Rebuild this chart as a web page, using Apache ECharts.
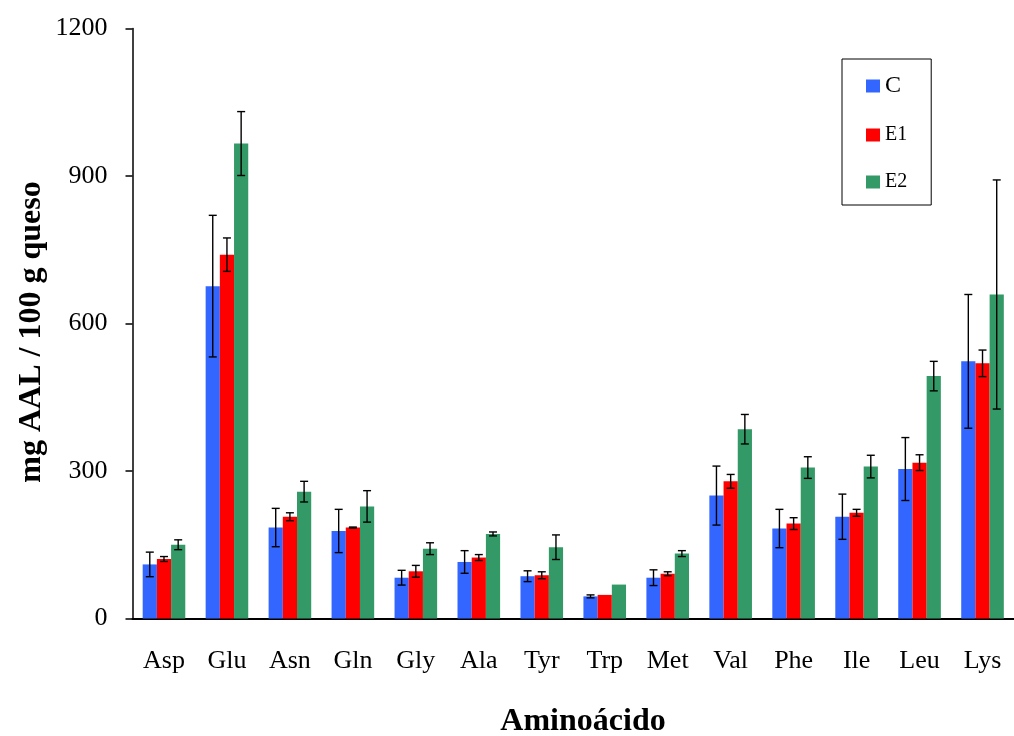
<!DOCTYPE html>
<html>
<head>
<meta charset="utf-8">
<title>Aminoácidos libres</title>
<script src="https://cdn.jsdelivr.net/npm/echarts@6/dist/echarts.min.js"></script>
<style>
  html, body { margin: 0; padding: 0; background: #fff; }
  #chart { width: 1014px; height: 736px; }
</style>
</head>
<body>
<div id="chart"></div>
<script>
// Free amino acids (mg AAL / 100 g queso), mean and standard deviation per treatment
const categories = ['Asp', 'Glu', 'Asn', 'Gln', 'Gly', 'Ala', 'Tyr', 'Trp', 'Met', 'Val', 'Phe', 'Ile', 'Leu', 'Lys'];

const valuesC   = [110, 676, 185, 178, 83, 115, 86, 45, 83, 250, 183, 207, 304, 523];
const errorsC   = [25, 144, 39, 44, 15, 23, 11, 3, 16, 60, 39, 46, 64, 136];

const valuesE1  = [121, 740, 207, 185, 96, 124, 88, 48, 91, 279, 193, 215, 317, 519];
const errorsE1  = [5, 34, 8, 1, 12, 6, 7, 0, 4, 14, 12, 7, 16, 27];

const valuesE2  = [150, 966, 258, 228, 142, 172, 145, 69, 132, 385, 307, 309, 493, 659];
const errorsE2  = [10, 65, 21, 32, 12, 4, 25, 0, 6, 30, 22, 23, 30, 233];

const yTicks = [0, 300, 600, 900, 1200];

const seriesNames  = ['C', 'E1', 'E2'];
const seriesColors = ['#3366FF', '#FF0000', '#339966'];

const SERIF = '"Liberation Serif", "Times New Roman", serif';
const BAR_W = 14.2;

const chart = echarts.init(document.getElementById('chart'), null, { renderer: 'canvas' });

function barSeries(name, values, color) {
  return {
    name: name,
    type: 'bar',
    data: values,
    barWidth: BAR_W,
    barGap: '0%',
    itemStyle: { color: color },
    z: 2
  };
}

// Error bars drawn with a custom series, shifted to sit over the matching bar
function errorSeries(name, values, errors, slot) {
  const data = values.map((v, i) => [i, v, errors[i]]);
  return {
    name: name + ' (DE)',
    type: 'custom',
    data: data,
    encode: { x: 0, y: 1 },
    z: 5,
    silent: true,
    renderItem: function (params, api) {
      const idx = api.value(0);
      const v = api.value(1);
      const e = api.value(2);
      if (!e) return null;
      const base = api.coord([idx, v]);
      const top = api.coord([idx, v + e]);
      const bot = api.coord([idx, v - e]);
      const x = base[0] + slot * BAR_W;
      const cap = 4;
      const style = { stroke: '#000', lineWidth: 1.4 };
      return {
        type: 'group',
        children: [
          { type: 'line', shape: { x1: x, y1: top[1], x2: x, y2: bot[1] }, style: style },
          { type: 'line', shape: { x1: x - cap, y1: top[1], x2: x + cap, y2: top[1] }, style: style },
          { type: 'line', shape: { x1: x - cap, y1: bot[1], x2: x + cap, y2: bot[1] }, style: style }
        ]
      };
    }
  };
}

const option = {
  backgroundColor: '#ffffff',
  animation: false,
  grid: { left: 132.5, top: 28.5, width: 890.5, bottom: 117.5, containLabel: false },
  legend: {
    data: [
      { name: 'C',  textStyle: { fontSize: 24 } },
      { name: 'E1', textStyle: { fontSize: 20 } },
      { name: 'E2', textStyle: { fontSize: 20 } }
    ],
    orient: 'vertical',
    left: 842,
    top: 59,
    padding: [15, 24, 13, 24],
    itemWidth: 14,
    itemHeight: 13,
    itemGap: 27,
    borderColor: '#000',
    borderWidth: 1,
    icon: 'rect',
    textStyle: { fontFamily: SERIF, color: '#000', fontSize: 20, lineHeight: 20 }
  },
  xAxis: {
    type: 'category',
    data: categories,
    boundaryGap: true,
    axisLine: { show: true, lineStyle: { color: '#000', width: 2 } },
    axisTick: { show: false },
    axisLabel: { color: '#000', fontFamily: SERIF, fontSize: 26, margin: 30, interval: 0 },
    splitLine: { show: false }
  },
  yAxis: {
    type: 'value',
    min: yTicks[0],
    max: yTicks[yTicks.length - 1],
    interval: yTicks[1] - yTicks[0],
    axisLine: { show: true, lineStyle: { color: '#000', width: 1.5 } },
    axisTick: { show: true, inside: false, length: 7, lineStyle: { color: '#000', width: 1.5 } },
    axisLabel: {
      color: '#000', fontFamily: SERIF, fontSize: 26, margin: 25,
      formatter: function (v) { return String(v); }
    },
    splitLine: { show: false }
  },
  graphic: [
    {
      type: 'text',
      x: 32,
      y: 332,
      rotation: Math.PI / 2,
      style: {
        text: 'mg AAL / 100 g queso',
        font: 'bold 32px ' + SERIF,
        fill: '#000',
        align: 'center',
        verticalAlign: 'middle'
      }
    },
    {
      type: 'text',
      x: 583,
      y: 722,
      style: {
        text: 'Aminoácido',
        font: 'bold 32px ' + SERIF,
        fill: '#000',
        align: 'center',
        verticalAlign: 'middle'
      }
    }
  ],
  series: [
    barSeries(seriesNames[0], valuesC, seriesColors[0]),
    barSeries(seriesNames[1], valuesE1, seriesColors[1]),
    barSeries(seriesNames[2], valuesE2, seriesColors[2]),
    errorSeries(seriesNames[0], valuesC, errorsC, -1),
    errorSeries(seriesNames[1], valuesE1, errorsE1, 0),
    errorSeries(seriesNames[2], valuesE2, errorsE2, 1)
  ]
};

chart.setOption(option);
</script>
</body>
</html>
